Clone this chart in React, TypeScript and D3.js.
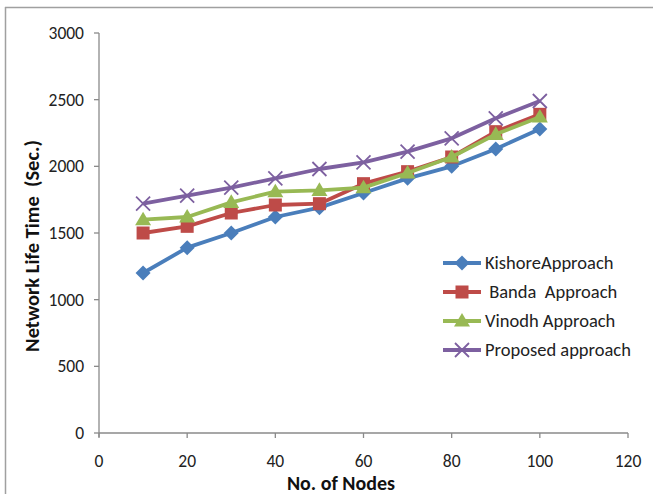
import React from "react";
import * as d3 from "d3";

const nodes = [10, 20, 30, 40, 50, 60, 70, 80, 90, 100];
const kishore = [1200, 1390, 1500, 1620, 1690, 1800, 1910, 2000, 2130, 2280];
const banda = [1500, 1550, 1650, 1710, 1720, 1870, 1960, 2070, 2260, 2390];
const vinodh = [1600, 1620, 1730, 1810, 1820, 1840, 1950, 2070, 2240, 2370];
const proposed = [1720, 1780, 1840, 1910, 1980, 2030, 2110, 2210, 2360, 2490];
const xTicks = [0, 20, 40, 60, 80, 100, 120];
const yTicks = [0, 500, 1000, 1500, 2000, 2500, 3000];
const seriesNames = ["KishoreApproach", " Banda  Approach", "Vinodh Approach", "Proposed approach"];

const colors = ["#4A7EBB", "#BE4B48", "#98B954", "#7D60A0"];
const markers = ["diamond", "square", "triangle", "x"];
const allSeries = [kishore, banda, vinodh, proposed];

const W = 653, H = 494;
const x = d3.scaleLinear().domain([0, 120]).range([99, 628]);
const y = d3.scaleLinear().domain([0, 3000]).range([433, 33]);
const font = "Carlito, 'Open Sans', 'Liberation Sans', sans-serif";

function Marker({ type, cx, cy, color }: { type: string; cx: number; cy: number; color: string }) {
  if (type === "diamond") {
    const r = 7.5;
    return <path d={`M${cx},${cy - r}L${cx + r},${cy}L${cx},${cy + r}L${cx - r},${cy}Z`} fill={color} />;
  }
  if (type === "square") {
    const r = 6.5;
    return <rect x={cx - r} y={cy - r} width={2 * r} height={2 * r} fill={color} />;
  }
  if (type === "triangle") {
    const r = 8;
    return <path d={`M${cx},${cy - r}L${cx + r},${cy + r * 0.7}L${cx - r},${cy + r * 0.7}Z`} fill={color} />;
  }
  const r = 7;
  return (
    <path d={`M${cx - r},${cy - r}L${cx + r},${cy + r}M${cx - r},${cy + r}L${cx + r},${cy - r}`} stroke={color} strokeWidth={1.8} fill="none" />
  );
}

export default function App() {
  const line = d3.line<number>().x((_, i) => x(nodes[i])).y((d) => y(d));
  const axisColor = "#8a8a8a";
  return (
    <svg width={W} height={H} style={{ position: "absolute", left: 0, top: 0, background: "#fff" }}>
      <rect x={0} y={0} width={W} height={H} fill="#fff" />
      <line x1={5} y1={7.5} x2={W} y2={7.5} stroke="#a0a0a0" strokeWidth={1.5} />
      <line x1={5.5} y1={7} x2={5.5} y2={H} stroke="#a0a0a0" strokeWidth={1.5} />
      {/* axes */}
      <line x1={x(0)} y1={y(0)} x2={x(120)} y2={y(0)} stroke={axisColor} strokeWidth={1.3} />
      <line x1={x(0)} y1={y(0) + 4} x2={x(0)} y2={y(3000)} stroke={axisColor} strokeWidth={1.3} />
      {yTicks.map((t) => (
        <g key={"y" + t}>
          <line x1={x(0) - 5} x2={x(0)} y1={y(t)} y2={y(t)} stroke={axisColor} strokeWidth={1.3} />
          <text x={84} y={y(t)} dy="0.35em" textAnchor="end" fontSize={17.5} fontFamily={font} fill="#222">
            {t}
          </text>
        </g>
      ))}
      {xTicks.map((t) => (
        <g key={"x" + t}>
          <line x1={x(t)} x2={x(t)} y1={y(0)} y2={y(0) + 5} stroke={axisColor} strokeWidth={1.3} />
          <text x={x(t)} y={467} textAnchor="middle" fontSize={17.5} fontFamily={font} fill="#222">
            {t}
          </text>
        </g>
      ))}
      <text x={341} y={490} textAnchor="middle" fontSize={20} fontWeight="bold" fontFamily={font} fill="#111">
        No. of Nodes
      </text>
      <text
        transform={`translate(39,246) rotate(-90)`}
        textAnchor="middle"
        fontSize={20.5}
        fontWeight="bold"
        fontFamily={font}
        fill="#111"
        style={{ whiteSpace: "pre" }}
      >
        Network Life Time  (Sec.)
      </text>
      {/* series */}
      {allSeries.map((s, si) => (
        <g key={"s" + si}>
          <path d={line(s) || ""} fill="none" stroke={colors[si]} strokeWidth={3.8} strokeLinejoin="round" />
          {s.map((v, i) => (
            <Marker key={i} type={markers[si]} cx={x(nodes[i])} cy={y(v)} color={colors[si]} />
          ))}
        </g>
      ))}
      {/* legend */}
      {seriesNames.map((n, i) => {
        const ly = 263 + i * 29;
        return (
          <g key={"l" + i}>
            <line x1={443} x2={481} y1={ly} y2={ly} stroke={colors[i]} strokeWidth={3.8} />
            <Marker type={markers[i]} cx={462} cy={ly} color={colors[i]} />
            <text x={485} y={ly} dy="0.35em" fontSize={18.5} fontFamily={font} fill="#222" style={{ whiteSpace: "pre" }}>
              {n}
            </text>
          </g>
        );
      })}
    </svg>
  );
}
